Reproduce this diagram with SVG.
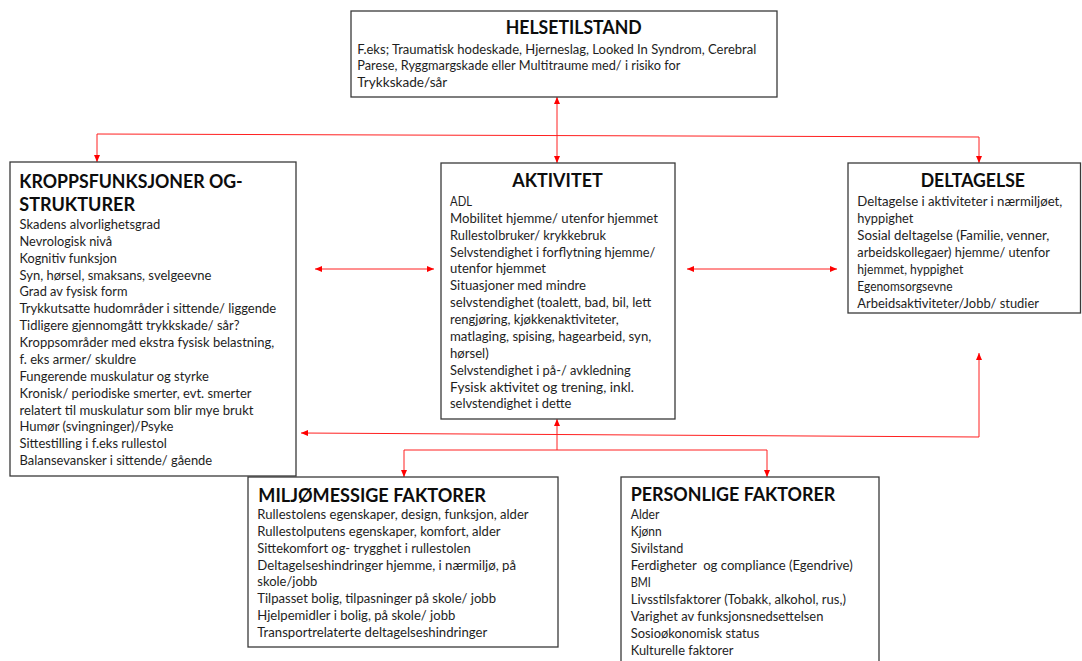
<svg xmlns="http://www.w3.org/2000/svg" width="1082" height="661" viewBox="0 0 1082 661">
<style>
.box{fill:#ffffff;stroke:#3a3a3a;stroke-width:1.3}
.t{font-family:Lato,"Liberation Sans",sans-serif;font-weight:bold;font-size:18px;fill:#0d0d0d}
.b{font-family:Lato,"Liberation Sans",sans-serif;font-size:12.5px;fill:#1e1e1e}
.c{fill:none;stroke:#ff2020;stroke-width:1}
</style>
<defs>
<marker id="ah" viewBox="0 0 7 6" refX="7" refY="3" markerWidth="7" markerHeight="6" markerUnits="userSpaceOnUse" orient="auto-start-reverse">
<path d="M0,0 L7,3 L0,6 z" fill="#ff0000"/>
</marker>
</defs>
<rect width="1082" height="661" fill="#ffffff"/>
<g id="connectors">
<path class="c" d="M557,97 L557,163" marker-start="url(#ah)" marker-end="url(#ah)"/>
<path class="c" d="M97,162 L97,134 L979,137 L979,163" marker-start="url(#ah)" marker-end="url(#ah)"/>
<path class="c" d="M315,269 L434,269" marker-start="url(#ah)" marker-end="url(#ah)"/>
<path class="c" d="M687,269 L837,269" marker-start="url(#ah)" marker-end="url(#ah)"/>
<path class="c" d="M557,419 L557,450" marker-start="url(#ah)"/>
<path class="c" d="M404,477 L404,450 L767,450 L767,477" marker-start="url(#ah)" marker-end="url(#ah)"/>
<path class="c" d="M301,433 L979,437 L979,353" marker-start="url(#ah)" marker-end="url(#ah)"/>
</g>
<g id="helsetilstand">
<rect class="box" x="351" y="11" width="426" height="86"/>
<text class="t" x="505.7" y="34.3" textLength="136" lengthAdjust="spacingAndGlyphs">HELSETILSTAND</text>
<text class="b" x="357.3" y="53.5" textLength="399" lengthAdjust="spacingAndGlyphs">F.eks; Traumatisk hodeskade, Hjerneslag, Looked In Syndrom, Cerebral</text>
<text class="b" x="357.3" y="70.1" textLength="323" lengthAdjust="spacingAndGlyphs">Parese, Ryggmargskade eller Multitraume med/ i risiko for</text>
<text class="b" x="357.3" y="86.7" textLength="90" lengthAdjust="spacingAndGlyphs">Trykkskade/sår</text>
</g>
<g id="kroppsfunksjoner">
<rect class="box" x="10" y="162" width="286" height="314"/>
<text class="t" x="19.3" y="187.7" textLength="223.4" lengthAdjust="spacingAndGlyphs">KROPPSFUNKSJONER OG-</text>
<text class="t" x="19.3" y="211" textLength="115.7" lengthAdjust="spacingAndGlyphs">STRUKTURER</text>
<text class="b" x="19.5" y="229" textLength="140.7" lengthAdjust="spacingAndGlyphs">Skadens alvorlighetsgrad</text>
<text class="b" x="19.5" y="245.9" textLength="92.7" lengthAdjust="spacingAndGlyphs">Nevrologisk nivå</text>
<text class="b" x="19.5" y="262.7" textLength="97.3" lengthAdjust="spacingAndGlyphs">Kognitiv funksjon</text>
<text class="b" x="19.5" y="279.6" textLength="192" lengthAdjust="spacingAndGlyphs">Syn, hørsel, smaksans, svelgeevne</text>
<text class="b" x="19.5" y="296.4" textLength="108" lengthAdjust="spacingAndGlyphs">Grad av fysisk form</text>
<text class="b" x="19.5" y="313.3" textLength="256.7" lengthAdjust="spacingAndGlyphs">Trykkutsatte hudområder i sittende/ liggende</text>
<text class="b" x="19.5" y="330.2" textLength="220" lengthAdjust="spacingAndGlyphs">Tidligere gjennomgått trykkskade/ sår?</text>
<text class="b" x="19.5" y="347" textLength="254.7" lengthAdjust="spacingAndGlyphs">Kroppsområder med ekstra fysisk belastning,</text>
<text class="b" x="19.5" y="363.9" textLength="116.7" lengthAdjust="spacingAndGlyphs">f. eks armer/ skuldre</text>
<text class="b" x="19.5" y="380.7" textLength="189.3" lengthAdjust="spacingAndGlyphs">Fungerende muskulatur og styrke</text>
<text class="b" x="19.5" y="397.6" textLength="232" lengthAdjust="spacingAndGlyphs">Kronisk/ periodiske smerter, evt. smerter</text>
<text class="b" x="19.5" y="414.5" textLength="234" lengthAdjust="spacingAndGlyphs">relatert til muskulatur som blir mye brukt</text>
<text class="b" x="19.5" y="431.3" textLength="154" lengthAdjust="spacingAndGlyphs">Humør (svingninger)/Psyke</text>
<text class="b" x="19.5" y="448.2" textLength="147.3" lengthAdjust="spacingAndGlyphs">Sittestilling i f.eks rullestol</text>
<text class="b" x="19.5" y="465" textLength="192.7" lengthAdjust="spacingAndGlyphs">Balansevansker i sittende/ gående</text>
</g>
<g id="aktivitet">
<rect class="box" x="441" y="163" width="234" height="256"/>
<text class="t" x="512.3" y="187.3" textLength="90.4" lengthAdjust="spacingAndGlyphs">AKTIVITET</text>
<text class="b" x="450" y="206" textLength="22" lengthAdjust="spacingAndGlyphs">ADL</text>
<text class="b" x="450" y="222.9" textLength="208" lengthAdjust="spacingAndGlyphs">Mobilitet hjemme/ utenfor hjemmet</text>
<text class="b" x="450" y="239.7" textLength="156" lengthAdjust="spacingAndGlyphs">Rullestolbruker/ krykkebruk</text>
<text class="b" x="450" y="256.6" textLength="205.3" lengthAdjust="spacingAndGlyphs">Selvstendighet i forflytning hjemme/</text>
<text class="b" x="450" y="273.4" textLength="96" lengthAdjust="spacingAndGlyphs">utenfor hjemmet</text>
<text class="b" x="450" y="290.3" textLength="136" lengthAdjust="spacingAndGlyphs">Situasjoner med mindre</text>
<text class="b" x="450" y="307.2" textLength="201.3" lengthAdjust="spacingAndGlyphs">selvstendighet (toalett, bad, bil, lett</text>
<text class="b" x="450" y="324" textLength="168.7" lengthAdjust="spacingAndGlyphs">rengjøring, kjøkkenaktiviteter,</text>
<text class="b" x="450" y="340.9" textLength="201.3" lengthAdjust="spacingAndGlyphs">matlaging, spising, hagearbeid, syn,</text>
<text class="b" x="450" y="357.7" textLength="38.7" lengthAdjust="spacingAndGlyphs">hørsel)</text>
<text class="b" x="450" y="374.6" textLength="180.7" lengthAdjust="spacingAndGlyphs">Selvstendighet i på-/ avkledning</text>
<text class="b" x="450" y="391.5" textLength="184" lengthAdjust="spacingAndGlyphs">Fysisk aktivitet og trening, inkl.</text>
<text class="b" x="450" y="408.3" textLength="121.3" lengthAdjust="spacingAndGlyphs">selvstendighet i dette</text>
</g>
<g id="deltagelse">
<rect class="box" x="848" y="163" width="232.5" height="150"/>
<text class="t" x="920.7" y="186.7" textLength="104.3" lengthAdjust="spacingAndGlyphs">DELTAGELSE</text>
<text class="b" x="857.3" y="206" textLength="205" lengthAdjust="spacingAndGlyphs">Deltagelse i aktiviteter i nærmiljøet,</text>
<text class="b" x="857.3" y="223" textLength="56" lengthAdjust="spacingAndGlyphs">hyppighet</text>
<text class="b" x="857.3" y="240.1" textLength="192" lengthAdjust="spacingAndGlyphs">Sosial deltagelse (Familie, venner,</text>
<text class="b" x="857.3" y="257.2" textLength="192.7" lengthAdjust="spacingAndGlyphs">arbeidskollegaer) hjemme/ utenfor</text>
<text class="b" x="857.3" y="274.2" textLength="106" lengthAdjust="spacingAndGlyphs">hjemmet, hyppighet</text>
<text class="b" x="857.3" y="291.3" textLength="95.3" lengthAdjust="spacingAndGlyphs">Egenomsorgsevne</text>
<text class="b" x="857.3" y="308.3" textLength="181.7" lengthAdjust="spacingAndGlyphs">Arbeidsaktiviteter/Jobb/ studier</text>
</g>
<g id="miljomessige">
<rect class="box" x="248" y="477" width="310" height="170"/>
<text class="t" x="258.3" y="501.7" textLength="227.7" lengthAdjust="spacingAndGlyphs">MILJØMESSIGE FAKTORER</text>
<text class="b" x="257.3" y="519.3" textLength="271.3" lengthAdjust="spacingAndGlyphs">Rullestolens egenskaper, design, funksjon, alder</text>
<text class="b" x="257.3" y="536.1" textLength="243.3" lengthAdjust="spacingAndGlyphs">Rullestolputens egenskaper, komfort, alder</text>
<text class="b" x="257.3" y="552.8" textLength="213.3" lengthAdjust="spacingAndGlyphs">Sittekomfort og- trygghet i rullestolen</text>
<text class="b" x="257.3" y="569.6" textLength="258.7" lengthAdjust="spacingAndGlyphs">Deltagelseshindringer hjemme, i nærmiljø, på</text>
<text class="b" x="257.3" y="586.4" textLength="60" lengthAdjust="spacingAndGlyphs">skole/jobb</text>
<text class="b" x="257.3" y="603.2" textLength="238.7" lengthAdjust="spacingAndGlyphs">Tilpasset bolig, tilpasninger på skole/ jobb</text>
<text class="b" x="257.3" y="619.9" textLength="198" lengthAdjust="spacingAndGlyphs">Hjelpemidler i bolig, på skole/ jobb</text>
<text class="b" x="257.3" y="636.7" textLength="230" lengthAdjust="spacingAndGlyphs">Transportrelaterte deltagelseshindringer</text>
</g>
<g id="personlige">
<rect class="box" x="621" y="477" width="258" height="200"/>
<text class="t" x="630.7" y="501" textLength="204.6" lengthAdjust="spacingAndGlyphs">PERSONLIGE FAKTORER</text>
<text class="b" x="630.7" y="519.3" textLength="28.7" lengthAdjust="spacingAndGlyphs">Alder</text>
<text class="b" x="630.7" y="536.3" textLength="31" lengthAdjust="spacingAndGlyphs">Kjønn</text>
<text class="b" x="630.7" y="553.2" textLength="52.7" lengthAdjust="spacingAndGlyphs">Sivilstand</text>
<text class="b" x="630.7" y="570.2" textLength="222" lengthAdjust="spacingAndGlyphs" xml:space="preserve">Ferdigheter  og compliance (Egendrive)</text>
<text class="b" x="630.7" y="587.1" textLength="20" lengthAdjust="spacingAndGlyphs">BMI</text>
<text class="b" x="630.7" y="604.1" textLength="215.3" lengthAdjust="spacingAndGlyphs">Livsstilsfaktorer (Tobakk, alkohol, rus,)</text>
<text class="b" x="630.7" y="621.1" textLength="192.7" lengthAdjust="spacingAndGlyphs">Varighet av funksjonsnedsettelsen</text>
<text class="b" x="630.7" y="638" textLength="128.7" lengthAdjust="spacingAndGlyphs">Sosioøkonomisk status</text>
<text class="b" x="630.7" y="655" textLength="102.7" lengthAdjust="spacingAndGlyphs">Kulturelle faktorer</text>
</g>
</svg>
